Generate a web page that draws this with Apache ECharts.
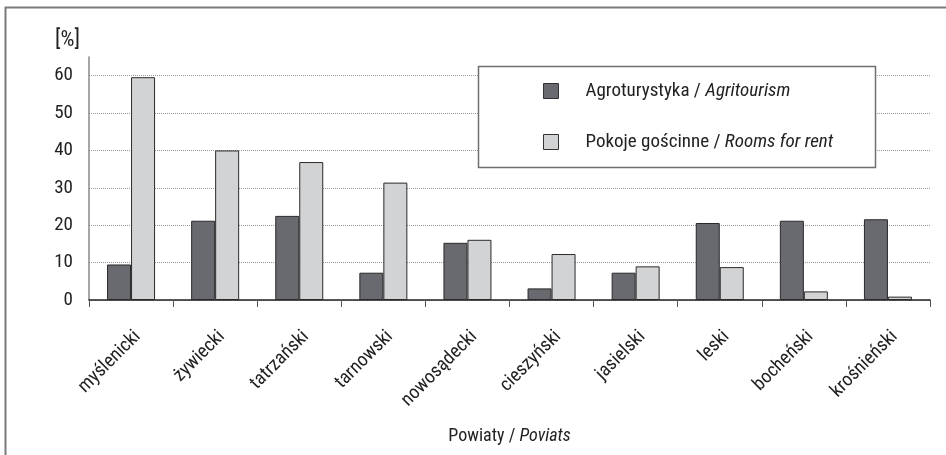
<!DOCTYPE html>
<html>
<head>
<meta charset="utf-8">
<script src="https://cdn.jsdelivr.net/npm/echarts@6/dist/echarts.min.js"></script>
<style>
  html, body { margin: 0; padding: 0; background: #fff; }
  #chart { width: 946px; height: 455px; }
</style>
</head>
<body>
<div id="chart"></div>
<script>
// Powiaty / Poviats - share of agritourism vs rooms for rent [%]
var categories = ['myślenicki', 'żywiecki', 'tatrzański', 'tarnowski', 'nowosądecki',
                  'cieszyński', 'jasielski', 'leski', 'bocheński', 'krośnieński'];
var agroValues = [9.5, 21.2, 22.5, 7.3, 15.3, 3.1, 7.3, 20.6, 21.2, 21.6];   // Agroturystyka
var roomValues = [59.6, 40.0, 36.9, 31.4, 16.1, 12.3, 9.0, 8.8, 2.3, 0.9];   // Pokoje gościnne
var yTicks = { min: 0, max: 65, interval: 10 };

var FONT = '"Liberation Sans Narrow", "Roboto Condensed", "DejaVu Sans Condensed", Roboto, sans-serif';

var myChart = echarts.init(document.getElementById('chart'));

var option = {
    animation: false,
    textStyle: { fontFamily: FONT, color: '#222' },
    grid: { left: 89, right: 16, top: 57, bottom: 155 },
    graphic: [
        {   // outer frame (only left and top edges are visible)
            type: 'rect', z: -1,
            shape: { x: 5.5, y: 7.5, width: 1200, height: 800 },
            style: { fill: 'none', stroke: '#7a7a7a', lineWidth: 2 }
        },
        {   // legend box
            type: 'rect', z: 10,
            shape: { x: 478.5, y: 66.5, width: 397, height: 101 },
            style: { fill: '#fff', stroke: '#6f6f6f', lineWidth: 1.5 }
        }
    ],
    legend: {
        orient: 'vertical',
        left: 543, top: 81,
        z: 11,
        itemWidth: 15, itemHeight: 15,
        itemGap: 31,
        padding: 0,
        icon: 'rect',
        itemStyle: { borderColor: '#333', borderWidth: 1 },
        textStyle: {
            fontFamily: FONT, fontSize: 19, color: '#222', lineHeight: 20,
            padding: [0, 0, 0, 22],
            rich: { i: { fontFamily: FONT, fontSize: 19, fontStyle: 'italic', color: '#222' } }
        },
        formatter: function (name) {
            var parts = name.split(' / ');
            return parts[0] + ' / {i|' + parts[1] + '}';
        },
        data: ['Agroturystyka / Agritourism', 'Pokoje gościnne / Rooms for rent']
    },
    xAxis: {
        type: 'category',
        data: categories,
        name: 'Powiaty / {i|Poviats}',
        nameLocation: 'middle',
        nameGap: 127,
        nameTextStyle: {
            fontFamily: FONT, fontSize: 18, color: '#222',
            rich: { i: { fontFamily: FONT, fontSize: 18, fontStyle: 'italic', color: '#222' } }
        },
        axisLine: { lineStyle: { color: '#222', width: 1.5 } },
        axisTick: { show: true, length: 7, lineStyle: { color: '#555', width: 1 } },
        axisLabel: {
            rotate: 45, margin: 27, fontSize: 19, color: '#222', fontFamily: FONT,
            verticalAlign: 'top', interval: 0
        },
        splitLine: { show: false }
    },
    yAxis: {
        type: 'value',
        min: yTicks.min, max: yTicks.max, interval: yTicks.interval,
        name: '[%]',
        nameLocation: 'end',
        nameGap: 6,
        nameTextStyle: { fontFamily: FONT, fontSize: 22, color: '#222', align: 'right', padding: [0, 9, 0, 0] },
        axisLine: { show: true, lineStyle: { color: '#888', width: 1.5 } },
        axisTick: { show: false },
        axisLabel: { fontSize: 19, color: '#222', margin: 16, fontFamily: FONT, showMaxLabel: false },
        splitLine: {
            show: true, showMaxLine: false,
            lineStyle: { color: '#999', type: [1, 1], width: 1 }
        }
    },
    series: [
        {
            name: 'Agroturystyka / Agritourism',
            type: 'bar',
            barWidth: 24,
            barGap: '0%',
            itemStyle: { color: '#696a6f', borderColor: '#2a2a2a', borderWidth: 1 },
            data: agroValues
        },
        {
            name: 'Pokoje gościnne / Rooms for rent',
            type: 'bar',
            barWidth: 24,
            barGap: '0%',
            itemStyle: { color: '#d2d3d5', borderColor: '#2a2a2a', borderWidth: 1 },
            data: roomValues
        }
    ]
};
myChart.setOption(option);
</script>
</body>
</html>
